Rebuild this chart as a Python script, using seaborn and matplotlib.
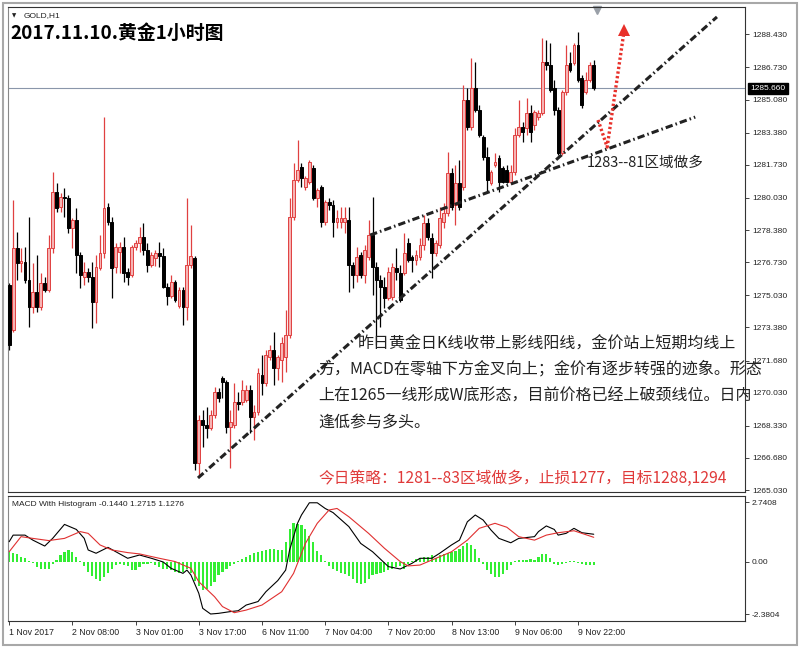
import numpy as np
import pandas as pd
import matplotlib
matplotlib.use("Agg")
import matplotlib.pyplot as plt
import seaborn as sns

# ---- 数据 (H1 candles, 1 Nov 2017 .. 9 Nov 2017) ----
opens = [
    1275.56, 1273.24, 1277.46, 1276.68, 1276.74, 1275.81, 1274.43, 1275.20, 1274.43, 1275.66,
    1275.30, 1277.46, 1280.33, 1279.56, 1280.07, 1280.02, 1278.48, 1278.89, 1277.10, 1275.97,
    1276.22, 1275.97, 1274.68, 1276.43, 1277.20, 1279.56, 1278.79, 1276.48, 1277.25, 1277.51,
    1276.22, 1276.07, 1277.51, 1277.71, 1278.02, 1277.35, 1276.58, 1276.94, 1277.20, 1277.04,
    1275.45, 1274.99, 1275.71, 1274.48, 1275.30, 1274.43, 1276.58, 1276.94, 1266.41, 1268.62,
    1268.37, 1268.21, 1268.88, 1270.06, 1270.78, 1270.57, 1268.26, 1268.37, 1269.55, 1269.55,
    1269.65, 1270.16, 1268.78, 1269.03, 1270.93, 1270.52, 1271.86, 1272.22, 1271.29, 1271.70,
    1271.86, 1272.99, 1279.05, 1280.95, 1281.61, 1280.59, 1280.84, 1281.56, 1280.02, 1280.59,
    1278.79, 1279.82, 1279.66, 1278.79, 1278.79, 1278.79, 1278.89, 1276.58, 1276.07, 1277.10,
    1276.07, 1276.99, 1278.12, 1276.48, 1275.81, 1275.45, 1274.89, 1274.94, 1276.43, 1276.17,
    1276.17, 1277.71, 1276.99, 1276.84, 1276.99, 1277.61, 1278.74, 1277.97, 1277.20, 1277.61,
    1278.79, 1279.25, 1281.31, 1279.66, 1280.79, 1280.59, 1285.05, 1283.67, 1285.67, 1284.54,
    1283.16, 1282.13, 1280.79, 1281.72, 1282.08, 1281.56, 1281.46, 1280.84, 1281.36, 1283.26,
    1283.67, 1283.62, 1284.39, 1283.77, 1284.18, 1284.39, 1287.01, 1286.85, 1285.67, 1284.54,
    1282.33, 1285.47, 1286.95, 1286.95, 1287.88, 1286.18, 1285.47, 1286.08, 1286.85]
highs = [
    1275.66, 1279.92, 1278.28, 1277.46, 1277.51, 1279.05, 1276.68, 1277.10, 1276.17, 1275.97,
    1278.12, 1281.36, 1280.79, 1280.28, 1280.54, 1280.18, 1279.00, 1279.51, 1277.25, 1276.74,
    1276.43, 1276.74, 1277.10, 1278.12, 1284.18, 1279.77, 1279.05, 1277.71, 1277.76, 1278.02,
    1276.43, 1277.61, 1277.87, 1278.53, 1278.74, 1277.71, 1277.25, 1277.35, 1277.76, 1277.46,
    1275.66, 1276.07, 1275.81, 1275.45, 1275.45, 1280.02, 1278.64, 1277.04, 1268.88, 1269.14,
    1269.29, 1269.14, 1270.32, 1270.27, 1270.88, 1270.68, 1269.14, 1270.52, 1270.06, 1270.68,
    1270.42, 1270.42, 1269.39, 1271.29, 1271.96, 1272.22, 1272.47, 1273.14, 1271.96, 1272.89,
    1274.27, 1280.02, 1281.82, 1283.00, 1281.82, 1281.15, 1281.97, 1281.72, 1280.54, 1280.69,
    1279.92, 1280.02, 1279.92, 1279.41, 1279.56, 1279.56, 1279.56, 1276.74, 1277.51, 1277.25,
    1277.61, 1278.89, 1280.07, 1276.74, 1276.07, 1275.97, 1276.48, 1276.68, 1277.46, 1276.58,
    1278.23, 1277.97, 1277.10, 1277.35, 1277.97, 1279.15, 1279.00, 1278.23, 1277.87, 1279.56,
    1279.77, 1282.38, 1281.56, 1281.72, 1281.97, 1285.83, 1285.67, 1287.21, 1287.01, 1284.80,
    1283.26, 1282.64, 1281.46, 1282.33, 1282.23, 1281.67, 1281.72, 1281.72, 1283.62, 1285.05,
    1283.93, 1285.16, 1284.80, 1284.54, 1284.54, 1288.24, 1288.14, 1287.98, 1286.08, 1284.70,
    1285.57, 1287.88, 1287.52, 1287.98, 1288.55, 1286.34, 1286.49, 1287.01, 1287.11]
lows = [
    1272.22, 1273.14, 1275.81, 1276.22, 1275.66, 1273.40, 1274.12, 1274.17, 1274.27, 1275.20,
    1275.20, 1277.20, 1279.30, 1279.30, 1279.05, 1278.23, 1277.46, 1276.17, 1275.40, 1275.56,
    1275.71, 1273.35, 1273.60, 1276.33, 1276.94, 1278.64, 1274.89, 1276.17, 1276.17, 1275.71,
    1275.56, 1275.97, 1277.35, 1277.25, 1277.10, 1276.22, 1276.48, 1276.53, 1276.48, 1275.40,
    1274.53, 1274.89, 1274.68, 1274.37, 1273.50, 1273.76, 1276.43, 1266.06, 1265.70, 1267.24,
    1267.70, 1268.11, 1268.73, 1269.55, 1269.75, 1267.96, 1266.16, 1268.21, 1269.14, 1269.39,
    1269.55, 1267.96, 1267.60, 1268.88, 1269.91, 1270.37, 1271.70, 1270.42, 1270.68, 1270.57,
    1271.09, 1272.83, 1278.89, 1280.84, 1280.59, 1280.43, 1280.74, 1279.92, 1279.56, 1278.53,
    1278.64, 1279.41, 1278.02, 1278.48, 1278.48, 1278.23, 1275.20, 1275.40, 1275.71, 1275.91,
    1275.66, 1276.84, 1275.04, 1272.47, 1273.40, 1274.37, 1274.78, 1274.78, 1275.81, 1274.68,
    1276.07, 1276.74, 1276.22, 1276.58, 1276.84, 1277.35, 1277.87, 1275.91, 1277.04, 1277.46,
    1278.48, 1279.10, 1279.41, 1278.64, 1279.41, 1280.43, 1283.51, 1283.51, 1284.44, 1283.16,
    1281.97, 1280.33, 1280.69, 1281.61, 1280.33, 1280.79, 1280.79, 1280.74, 1281.20, 1283.16,
    1282.90, 1283.26, 1282.90, 1283.51, 1284.03, 1284.28, 1286.60, 1285.47, 1284.28, 1282.23,
    1282.23, 1285.31, 1286.49, 1286.85, 1285.98, 1284.64, 1285.36, 1285.98, 1285.57]
closes = [
    1272.47, 1277.46, 1276.68, 1276.79, 1275.81, 1274.43, 1275.20, 1274.43, 1275.66, 1275.30,
    1277.46, 1280.33, 1279.51, 1280.07, 1280.02, 1278.48, 1278.89, 1277.10, 1276.07, 1276.22,
    1275.97, 1274.68, 1276.48, 1277.20, 1279.51, 1278.79, 1276.43, 1277.51, 1277.51, 1276.17,
    1275.97, 1277.51, 1277.71, 1278.02, 1277.35, 1276.58, 1277.10, 1277.20, 1277.04, 1275.45,
    1274.99, 1275.71, 1274.78, 1275.30, 1274.43, 1276.58, 1277.04, 1266.41, 1268.62, 1268.37,
    1268.21, 1268.88, 1270.06, 1269.75, 1270.57, 1268.26, 1268.52, 1269.55, 1269.44, 1270.16,
    1270.16, 1268.78, 1269.03, 1271.04, 1270.52, 1271.96, 1272.22, 1271.29, 1271.86, 1272.58,
    1272.99, 1279.05, 1280.95, 1281.46, 1281.05, 1281.05, 1281.87, 1280.02, 1280.43, 1278.79,
    1279.82, 1279.66, 1278.79, 1279.00, 1279.00, 1279.00, 1276.58, 1276.07, 1276.99, 1276.07,
    1277.35, 1278.12, 1276.48, 1275.81, 1275.45, 1274.89, 1276.22, 1276.48, 1276.22, 1274.78,
    1277.20, 1276.84, 1276.84, 1277.10, 1277.61, 1278.74, 1278.02, 1277.20, 1277.71, 1279.00,
    1279.25, 1281.31, 1279.56, 1280.79, 1279.56, 1285.05, 1283.67, 1285.67, 1284.54, 1283.26,
    1282.13, 1280.95, 1281.36, 1281.87, 1280.84, 1280.84, 1280.84, 1281.36, 1283.26, 1283.67,
    1283.41, 1284.39, 1283.41, 1284.44, 1284.39, 1287.01, 1286.85, 1285.57, 1284.54, 1282.33,
    1285.47, 1286.85, 1286.60, 1287.88, 1286.08, 1284.80, 1286.08, 1286.85, 1285.67]

# MACD histogram, one per bar
hist = [
    0.47, 0.42, 0.35, 0.25, 0.17, 0.05, -0.05, -0.25, -0.30, -0.30,
    -0.30, -0.10, 0.10, 0.30, 0.45, 0.55, 0.45, 0.25, 0.05, -0.20,
    -0.45, -0.65, -0.80, -0.85, -0.70, -0.50, -0.30, -0.15, -0.10, -0.15,
    -0.20, -0.35, -0.35, -0.25, -0.10, -0.10, -0.05, -0.15, -0.25, -0.30,
    -0.30, -0.35, -0.45, -0.50, -0.45, -0.30, -0.50, -0.85, -1.10, -1.28,
    -1.25, -1.10, -0.90, -0.60, -0.45, -0.30, -0.20, -0.10, 0.05, 0.15,
    0.25, 0.30, 0.40, 0.45, 0.50, 0.55, 0.60, 0.60, 0.55, 0.55,
    0.90, 1.50, 1.80, 1.75, 1.70, 1.50, 1.20, 0.90, 0.50, 0.30,
    0.05, -0.20, -0.30, -0.40, -0.50, -0.55, -0.65, -0.80, -0.95, -1.00,
    -0.95, -0.80, -0.60, -0.55, -0.50, -0.45, -0.35, -0.30, -0.25, -0.20,
    -0.30, -0.10, 0.05, 0.15, 0.20, 0.25, 0.25, 0.30, 0.20, 0.30,
    0.35, 0.40, 0.45, 0.50, 0.60, 0.75, 0.85, 0.80, 0.60, 0.20,
    -0.10, -0.35, -0.55, -0.70, -0.70, -0.55, -0.35, -0.15, 0.05, 0.10,
    0.10, 0.10, 0.15, 0.10, 0.25, 0.35, 0.35, 0.20, -0.10, -0.15,
    -0.10, -0.05, 0.05, 0.05, -0.05, -0.10, -0.15, -0.15, -0.14]

macd_bar = [0, 1, 4, 6, 9, 11, 14, 17, 19, 20, 22, 25, 27, 30, 33, 36, 39, 41, 44, 45,
            46, 48, 49, 51, 53, 56, 58, 60, 63, 65, 68, 70, 71, 73, 74, 76, 78, 80, 82, 86,
            89, 92, 96, 99, 102, 104, 107, 109, 112, 114, 116, 118, 120, 122, 124, 127, 129, 133, 134, 136,
            138, 139, 141, 143, 145, 148]
macd_val = [0.93, 1.23, 1.23, 1.00, 0.73, 1.08, 1.72, 1.49, 1.08, 0.55, 0.40, 0.67, 0.47, 0.17, 0.32, 0.17, 0.00, -0.29, -0.52, -0.37,
            -0.59, -1.43, -2.12, -2.38, -2.35, -2.27, -2.23, -1.97, -1.81, -1.36, -0.85, -0.37, 0.55, 1.77, 2.15, 2.71, 2.71, 2.45, 2.26, 1.62,
            0.85, 0.47, -0.21, -0.32, -0.06, 0.17, 0.17, 0.40, 0.78, 1.00, 1.84, 2.15, 1.92, 1.46, 1.08, 0.88, 1.08, 1.16, 1.39, 1.65,
            1.49, 1.23, 1.31, 1.54, 1.34, 1.27]
sig_bar = [0, 3, 6, 10, 14, 18, 20, 23, 26, 30, 33, 38, 42, 46, 48, 52, 54, 57, 60, 64,
           69, 72, 75, 78, 81, 83, 86, 91, 95, 99, 101, 104, 107, 112, 116, 119, 123, 126, 129, 133,
           136, 139, 143, 148]
sig_val = [0.47, 1.16, 1.08, 0.98, 1.08, 1.39, 1.31, 0.78, 0.55, 0.43, 0.37, 0.17, 0.02, -0.29, -0.90, -1.59, -2.04, -2.32, -2.20, -1.97,
           -1.36, -0.52, 0.85, 1.77, 2.38, 2.45, 2.07, 1.31, 0.63, 0.02, -0.18, -0.14, 0.09, 0.47, 1.00, 1.54, 1.77, 1.59, 1.16, 1.00,
           1.23, 1.34, 1.43, 1.13]

price_ticks = [1288.430, 1286.730, 1285.080, 1283.380, 1281.730, 1280.030, 1278.380, 1276.730,
               1275.030, 1273.380, 1271.680, 1270.030, 1268.330, 1266.680, 1265.030]
macd_ticks = [2.7408, 0.0, -2.3804]
macd_tick_labels = ["2.7408", "0.00", "-2.3804"]
time_bars = [0, 16, 32, 48, 64, 80, 96, 112, 128, 144]
time_labels = ["1 Nov 2017", "2 Nov 08:00", "3 Nov 01:00", "3 Nov 17:00", "6 Nov 11:00",
               "7 Nov 04:00", "7 Nov 20:00", "8 Nov 13:00", "9 Nov 06:00", "9 Nov 22:00"]
last_price = 1285.660

# 趋势线 / 箭头 (bar index, price)
trend_a_bar, trend_a_price = [47.8, 179.2], [1265.65, 1289.32]
trend_b_bar, trend_b_price = [91.4, 173.7], [1278.12, 1284.18]
arrow_bar, arrow_price = [149.1, 151.4, 155.5], [1284.03, 1282.64, 1288.35]

df = pd.DataFrame({"open": opens, "high": highs, "low": lows, "close": closes})
df["bar"] = np.arange(len(df))
df["up"] = df["close"] >= df["open"]

sns.set_theme(style="white")
plt.rcParams['font.family'] = ['Noto Sans CJK SC', 'DejaVu Sans']

W, H = 800, 648
fig = plt.figure(figsize=(8, 6.48), dpi=100)

def box(l, t, r, b):
    return [l / W, 1 - b / H, (r - l) / W, (b - t) / H]

ax = fig.add_axes(box(8, 7, 745, 492))
axm = fig.add_axes(box(8, 496, 745, 621), sharex=ax)

RED = "#e04040"
up = df[df["up"]]
dn = df[~df["up"]]
ax.vlines(up["bar"], up["low"], up["high"], color=RED, lw=0.9, zorder=2)
ax.vlines(dn["bar"], dn["low"], dn["high"], color="black", lw=0.9, zorder=2)
ax.bar(up["bar"], np.maximum(up["close"] - up["open"], 0.04), bottom=up["open"], width=0.72,
       color="#f6b4b4", edgecolor=RED, linewidth=0.7, zorder=3)
ax.bar(dn["bar"], np.maximum(dn["open"] - dn["close"], 0.04), bottom=dn["close"], width=0.72,
       color="black", edgecolor="black", linewidth=0.7, zorder=3)

ax.axhline(last_price, color="#8a96aa", lw=0.8, zorder=1)

dashdot = (0, (2.4, 1.0, 0.5, 1.0))
ax.plot(trend_a_bar, trend_a_price, color="#222222", lw=2.2, linestyle=dashdot, zorder=4)
ax.plot(trend_b_bar, trend_b_price, color="#222222", lw=2.2, linestyle=dashdot, zorder=4)
ax.plot(arrow_bar, arrow_price, color="#e8302a", lw=2.4, linestyle=(0, (0.7, 0.7)), zorder=5)
ax.plot([arrow_bar[-1] + 0.1], [arrow_price[-1] + 0.3], marker="^", ms=9, color="#e8302a",
        markeredgewidth=0, zorder=5)

ax.set_xlim(-0.3, 186.3)
ax.set_ylim(1264.93, 1289.83)
ax.yaxis.tick_right()
ax.set_yticks(price_ticks)
ax.set_yticklabels([f"{p:.3f}" for p in price_ticks])
ax.tick_params(axis="y", direction="out", length=3, width=0.6, pad=2, labelsize=6, colors="#222222")
ax.tick_params(axis="x", bottom=False, labelbottom=False)
for lbl in ax.get_yticklabels():
    lbl.set_fontfamily("Liberation Sans")

ax.annotate(f"{last_price:.3f}", xy=(1.0, last_price), xycoords=("axes fraction", "data"),
            xytext=(4, 0), textcoords="offset points", va="center", ha="left", fontsize=6,
            color="white", family="Liberation Sans",
            bbox=dict(boxstyle="square,pad=0.25", fc="black", ec="black"))

# MACD panel
axm.bar(np.arange(len(hist)), hist, width=0.55, color="#33ee33", edgecolor="none", linewidth=0, zorder=2)
sns.lineplot(x=macd_bar, y=macd_val, ax=axm, color="black", lw=0.8, zorder=3)
sns.lineplot(x=sig_bar, y=sig_val, ax=axm, color="#e03030", lw=0.8, zorder=3)
axm.set_ylim(-2.70, 3.02)
axm.yaxis.tick_right()
axm.set_yticks(macd_ticks)
axm.set_yticklabels(macd_tick_labels)
axm.set_xticks(time_bars)
axm.set_xticklabels(time_labels, ha="left")
axm.tick_params(axis="y", direction="out", length=3, width=0.6, pad=2, labelsize=6, colors="#222222")
axm.tick_params(axis="x", direction="out", length=3, width=0.6, pad=2, labelsize=6.3, colors="#222222", bottom=True)
for lbl in axm.get_yticklabels() + axm.get_xticklabels():
    lbl.set_fontfamily("Liberation Sans")
axm.set_xlabel("")
axm.set_ylabel("")

for a in (ax, axm):
    for s in a.spines.values():
        s.set_color("#333333")
        s.set_linewidth(0.8)
    a.spines["left"].set_color("#888888")

# 文字
fig.text(12 / W, 1 - 16 / H, "▼", fontsize=4, va="center", color="#222222", family="DejaVu Sans")
fig.text(24 / W, 1 - 16 / H, "GOLD,H1", fontsize=6, va="center", color="#222222", family="Liberation Sans")
fig.text(10 / W, 1 - 33 / H, "2017.11.10.黄金1小时图", fontsize=13.6, weight="bold", va="center", color="black")
fig.text(12 / W, 1 - 505 / H, "MACD With Histogram -0.1440 1.2715 1.1276", fontsize=6, va="center",
         color="#222222", family="Liberation Sans")
ax.plot([0.799], [0.994], marker="v", ms=6, color="#9aa0a8", transform=ax.transAxes, clip_on=False)

fig.text(587 / W, 1 - 163 / H, "1283--81区域做多", fontsize=10.5, va="center", color="#222222")
para = ["昨日黄金日K线收带上影线阳线，金价站上短期均线上",
        "方，MACD在零轴下方金叉向上；金价有逐步转强的迹象。形态",
        "上在1265一线形成W底形态，目前价格已经上破颈线位。日内",
        "逢低参与多头。"]
para_x = [358, 318, 318, 318]
para_y = [344, 369, 396, 423]
for t, x, y in zip(para, para_x, para_y):
    fig.text(x / W, 1 - y / H, t, fontsize=11.5, va="center", color="#222222")
fig.text(318 / W, 1 - 478 / H, "今日策略：1281--83区域做多，止损1277，目标1288,1294", fontsize=11.3,
         va="center", color="#e03a3a")

fig.patches.append(plt.Rectangle((3 / W, 3 / H), 794 / W, 642 / H, transform=fig.transFigure,
                                 fill=False, ec="#a8a8a8", lw=1.5))

fig.savefig("out.png", dpi=100)
